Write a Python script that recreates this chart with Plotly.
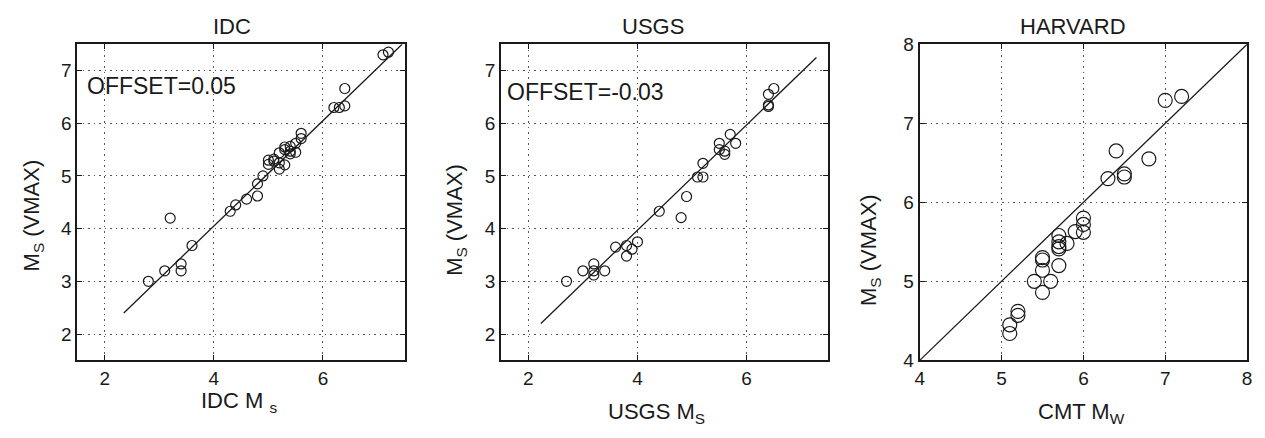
import plotly.graph_objects as go

# IDC Ms vs Ms(VMAX)
idc_x = [2.8, 3.1, 3.2, 3.4, 3.4, 3.6, 4.3, 4.4, 4.6, 4.8, 4.8, 4.9, 5.0, 5.0, 5.1, 5.1,
         5.2, 5.2, 5.2, 5.3, 5.3, 5.3, 5.4, 5.4, 5.4, 5.5, 5.5, 5.6, 5.6, 6.2, 6.3, 6.4,
         6.4, 7.1, 7.2]
idc_y = [3.0, 3.2, 4.2, 3.33, 3.2, 3.68, 4.33, 4.45, 4.56, 4.62, 4.85, 5.0, 5.3, 5.22, 5.28,
         5.32, 5.13, 5.44, 5.25, 5.55, 5.21, 5.5, 5.56, 5.47, 5.42, 5.62, 5.45, 5.81, 5.71,
         6.3, 6.3, 6.33, 6.66, 7.3, 7.35]
idc_offset = 0.05
idc_fit_x = [2.35, 7.45]

# USGS Ms vs Ms(VMAX)
usgs_x = [2.7, 3.0, 3.2, 3.2, 3.2, 3.4, 3.6, 3.8, 3.8, 3.9, 4.0, 4.4, 4.8, 4.9, 5.1, 5.2,
          5.2, 5.5, 5.5, 5.6, 5.6, 5.7, 5.8, 6.4, 6.4, 6.4, 6.5]
usgs_y = [3.0, 3.2, 3.33, 3.2, 3.12, 3.2, 3.65, 3.68, 3.48, 3.61, 3.75, 4.33, 4.21, 4.61,
          4.98, 4.98, 5.24, 5.62, 5.5, 5.41, 5.47, 5.79, 5.62, 6.55, 6.35, 6.32, 6.66]
usgs_offset = -0.03
usgs_fit_x = [2.23, 7.28]

# Harvard CMT Mw vs Ms(VMAX)
cmt_x = [5.1, 5.1, 5.2, 5.2, 5.4, 5.5, 5.5, 5.5, 5.5, 5.6, 5.7, 5.7, 5.7, 5.7, 5.7, 5.8,
         5.9, 6.0, 6.0, 6.0, 6.3, 6.4, 6.5, 6.5, 6.8, 7.0, 7.2]
cmt_y = [4.45, 4.34, 4.62, 4.57, 5.0, 4.86, 5.14, 5.3, 5.27, 5.0, 5.2, 5.58, 5.5, 5.44,
         5.41, 5.48, 5.63, 5.8, 5.72, 5.62, 6.3, 6.65, 6.36, 6.32, 6.55, 7.29, 7.34]
cmt_ref = [4, 8]

titles = ["IDC", "USGS", "HARVARD"]
xtitles = ["IDC M <sub>s</sub>", "USGS M<sub>S</sub>", "CMT M<sub>W</sub>"]
ytitle = "M<sub>S</sub> (VMAX)"

W, H = 1265, 438
FONT = "Liberation Sans, Arial, sans-serif"
INK = "#1a1a1a"

# panel frames in pixels: (left, right, top, bottom)
frames = [(73, 403, 36, 368), (500, 830, 36, 368), (922, 1252, 36, 368)]


def px_x(v):
    return v / W


def px_y(v):
    return (H - v) / H


fig = go.Figure()

marker_small = dict(symbol="circle-open", size=10, color=INK, line=dict(width=1.2, color=INK))
marker_big = dict(symbol="circle-open", size=14, color=INK, line=dict(width=1.2, color=INK))
line_style = dict(color=INK, width=1.3)

fig.add_trace(go.Scatter(x=idc_fit_x, y=[v + idc_offset for v in idc_fit_x], mode="lines",
                         line=line_style, xaxis="x", yaxis="y", showlegend=False))
fig.add_trace(go.Scatter(x=idc_x, y=idc_y, mode="markers", marker=marker_small,
                         xaxis="x", yaxis="y", showlegend=False))
fig.add_trace(go.Scatter(x=usgs_fit_x, y=[v + usgs_offset for v in usgs_fit_x], mode="lines",
                         line=line_style, xaxis="x2", yaxis="y2", showlegend=False))
fig.add_trace(go.Scatter(x=usgs_x, y=usgs_y, mode="markers", marker=marker_small,
                         xaxis="x2", yaxis="y2", showlegend=False))
fig.add_trace(go.Scatter(x=cmt_ref, y=cmt_ref, mode="lines",
                         line=line_style, xaxis="x3", yaxis="y3", showlegend=False))
fig.add_trace(go.Scatter(x=cmt_x, y=cmt_y, mode="markers", marker=marker_big,
                         xaxis="x3", yaxis="y3", showlegend=False))

axis_common = dict(
    showline=True, linecolor=INK, linewidth=2, mirror="ticks",
    ticks="inside", ticklen=5, tickwidth=1, tickcolor=INK,
    showgrid=True, gridcolor="#555555", gridwidth=1.2, griddash="1.5px,4px",
    zeroline=False, tickfont=dict(family=FONT, size=19, color=INK),
)

ranges = [([1.5, 7.5], [1.5, 7.5], 2, 1), ([1.5, 7.5], [1.5, 7.5], 2, 1), ([4, 8], [4, 8], 1, 1)]

layout = dict(
    width=W, height=H, margin=dict(l=0, r=0, t=0, b=0),
    paper_bgcolor="white", plot_bgcolor="white",
    font=dict(family=FONT, color=INK),
)
for i, ((l, r, t, b), (xr, yr, dx, dy)) in enumerate(zip(frames, ranges)):
    sfx = "" if i == 0 else str(i + 1)
    layout["xaxis" + sfx] = dict(axis_common, domain=[px_x(l), px_x(r)], range=xr,
                                 dtick=dx, tick0=0, anchor="y" + sfx)
    layout["yaxis" + sfx] = dict(axis_common, domain=[px_y(b), px_y(t)], range=yr,
                                 dtick=dy, tick0=0, anchor="x" + sfx)
fig.update_layout(**layout)

annotations = []
title_cx = [229, 653, 1077]
xtitle_cx = [236, 657, 1085]
xtitle_cy = [412, 423, 423]
ytitle_cx = [28, 455, 872]
ytitle_cy = [216, 220, 252]
for i in range(3):
    annotations.append(dict(text=titles[i], x=px_x(title_cx[i]), y=px_y(17), xref="paper",
                            yref="paper", xanchor="center", yanchor="middle", showarrow=False,
                            font=dict(family=FONT, size=22, color=INK)))
    annotations.append(dict(text=xtitles[i], x=px_x(xtitle_cx[i]), y=px_y(xtitle_cy[i]),
                            xref="paper", yref="paper", xanchor="center", yanchor="middle",
                            showarrow=False, borderpad=0,
                            font=dict(family=FONT, size=22, color=INK)))
    annotations.append(dict(text=ytitle, x=px_x(ytitle_cx[i]), y=px_y(ytitle_cy[i]),
                            xref="paper", yref="paper", xanchor="center", yanchor="middle",
                            textangle=-90, showarrow=False,
                            font=dict(family=FONT, size=22, color=INK)))

annotations.append(dict(text=f"OFFSET={idc_offset:.2f}", x=1.64, y=6.71, xref="x", yref="y",
                        xanchor="left", yanchor="middle", showarrow=False,
                        font=dict(family=FONT, size=23, color=INK)))
annotations.append(dict(text=f"OFFSET={usgs_offset:.2f}", x=1.57, y=6.6, xref="x2", yref="y2",
                        xanchor="left", yanchor="middle", showarrow=False,
                        font=dict(family=FONT, size=23, color=INK)))
fig.update_layout(annotations=annotations)

fig.write_html("out.html")
